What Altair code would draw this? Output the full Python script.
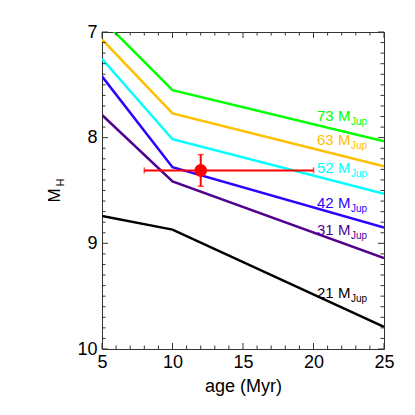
import altair as alt
import pandas as pd

# Model tracks: age (Myr) vs M_H for several masses
ages = [5, 10, 25]
masses = ["73", "63", "52", "42", "31", "21"]
mh_73 = [6.88, 7.55, 8.035]
mh_63 = [7.07, 7.77, 8.27]
mh_52 = [7.255, 8.015, 8.53]
mh_42 = [7.42, 8.28, 8.85]
mh_31 = [7.785, 8.415, 9.14]
mh_21 = [8.74, 8.87, 9.79]
colors = ["#00ff00", "#ffbf00", "#00ffff", "#3000ff", "#50008f", "#000000"]

label_age = [20.25, 20.25, 20.25, 20.25, 20.25, 20.25]
label_mh = [7.84, 8.07, 8.335, 8.665, 8.92, 9.515]

# Object measurement
obj_age = [12.0]
obj_mh = [8.31]
obj_age_lo = [8.0]
obj_age_hi = [20.0]
obj_mh_lo = [8.16]
obj_mh_hi = [8.46]

x_ticks = [5, 10, 15, 20, 25]
y_ticks = [7, 8, 9, 10]
x_minor = [a for a in range(5, 26) if a not in x_ticks]
y_minor = [round(7 + 0.1 * i, 1) for i in range(31) if (i % 10) != 0]

W, H = 282, 317
FONT = "Liberation Sans"

all_mh = [mh_73, mh_63, mh_52, mh_42, mh_31, mh_21]
rows = []
for m, vals in zip(masses, all_mh):
    for a, v in zip(ages, vals):
        rows.append({"mass": m, "age": a, "mh": v})
tracks = pd.DataFrame(rows)
labels = pd.DataFrame({"mass": masses, "age": label_age, "mh": label_mh,
                       "txt": [m + " M" for m in masses]})
obj = pd.DataFrame({"age": obj_age, "mh": obj_mh, "alo": obj_age_lo, "ahi": obj_age_hi,
                    "mlo": obj_mh_lo, "mhi": obj_mh_hi})

xs = alt.Scale(domain=[5, 25], nice=False, zero=False)
ys = alt.Scale(domain=[7, 10], reverse=True, nice=False, zero=False)
cs = alt.Scale(domain=masses, range=colors)

base_x = alt.X("age:Q", scale=xs,
               axis=alt.Axis(values=x_ticks, format="d", title="age (Myr)", ticks=False, domain=False,
                             grid=False, labelFontSize=18, labelPadding=4, titleFontSize=18,
                             titleFontWeight="normal", titlePadding=6, labelColor="black",
                             titleColor="black", labelFont=FONT, titleFont=FONT, labelFlush=False))
base_y = alt.Y("mh:Q", scale=ys,
               axis=alt.Axis(values=y_ticks, format="d", title=None, ticks=False, domain=False, grid=False,
                             labelFontSize=18, labelPadding=5, labelColor="black", labelFont=FONT,
                             labelFlush=False))

lines = alt.Chart(tracks).mark_line(strokeWidth=2.5, clip=True).encode(
    x=base_x, y=base_y,
    color=alt.Color("mass:N", scale=cs, legend=None),
    detail="mass:N",
)

lab_main = alt.Chart(labels).mark_text(align="left", baseline="alphabetic", fontSize=15, font=FONT).encode(
    x=alt.X("age:Q", scale=xs), y=alt.Y("mh:Q", scale=ys), text="txt:N",
    color=alt.Color("mass:N", scale=cs, legend=None))
lab_sub = alt.Chart(labels).mark_text(align="left", baseline="alphabetic", fontSize=10, font=FONT,
                                      dx=34, dy=4).encode(
    x=alt.X("age:Q", scale=xs), y=alt.Y("mh:Q", scale=ys), text=alt.value("Jup"),
    color=alt.Color("mass:N", scale=cs, legend=None))

herr = alt.Chart(obj).mark_rule(color="red", strokeWidth=2).encode(
    x=alt.X("alo:Q", scale=xs), x2="ahi:Q", y=alt.Y("mh:Q", scale=ys))
verr = alt.Chart(obj).mark_rule(color="red", strokeWidth=2).encode(
    x=alt.X("age:Q", scale=xs), y=alt.Y("mlo:Q", scale=ys), y2="mhi:Q")
capx_lo = alt.Chart(obj).mark_tick(color="red", orient="vertical", size=6, thickness=1.5).encode(
    x=alt.X("alo:Q", scale=xs), y=alt.Y("mh:Q", scale=ys))
capx_hi = alt.Chart(obj).mark_tick(color="red", orient="vertical", size=6, thickness=1.5).encode(
    x=alt.X("ahi:Q", scale=xs), y=alt.Y("mh:Q", scale=ys))
capy_lo = alt.Chart(obj).mark_tick(color="red", orient="horizontal", size=6, thickness=1.5).encode(
    x=alt.X("age:Q", scale=xs), y=alt.Y("mlo:Q", scale=ys))
capy_hi = alt.Chart(obj).mark_tick(color="red", orient="horizontal", size=6, thickness=1.5).encode(
    x=alt.X("age:Q", scale=xs), y=alt.Y("mhi:Q", scale=ys))
pt = alt.Chart(obj).mark_point(filled=True, color="red", opacity=1, size=160, shape="circle").encode(
    x=alt.X("age:Q", scale=xs), y=alt.Y("mh:Q", scale=ys))

# inward ticks on all four sides
tick_color = "#333333"

def xticks(vals, L):
    df = pd.DataFrame({"v": vals})
    bot = alt.Chart(df).mark_rule(color=tick_color, strokeWidth=1).encode(
        x=alt.X("v:Q", scale=xs), y=alt.value(H), y2=alt.value(H - L))
    top = alt.Chart(df).mark_rule(color=tick_color, strokeWidth=1).encode(
        x=alt.X("v:Q", scale=xs), y=alt.value(0), y2=alt.value(L))
    return bot + top

def yticks(vals, L):
    df = pd.DataFrame({"v": vals})
    left = alt.Chart(df).mark_rule(color=tick_color, strokeWidth=1).encode(
        y=alt.Y("v:Q", scale=ys), x=alt.value(0), x2=alt.value(L))
    right = alt.Chart(df).mark_rule(color=tick_color, strokeWidth=1).encode(
        y=alt.Y("v:Q", scale=ys), x=alt.value(W), x2=alt.value(W - L))
    return left + right

# y axis title M_H (rotated, with subscript)
ttl = pd.DataFrame({"t": ["M"], "s": ["H"]})
ytitle = alt.Chart(ttl).mark_text(angle=270, fontSize=17, font=FONT, baseline="alphabetic",
                                  align="center", color="black").encode(
    x=alt.value(-42), y=alt.value(H / 2 + 5), text="t:N")
ysub = alt.Chart(ttl).mark_text(angle=270, fontSize=11, font=FONT, baseline="alphabetic",
                                align="center", color="black").encode(
    x=alt.value(-38), y=alt.value(H / 2 - 8), text="s:N")

chart = alt.layer(
    lines, xticks(x_ticks, 6), xticks(x_minor, 3.5), yticks(y_ticks, 6), yticks(y_minor, 3.5),
    lab_main, lab_sub, herr, verr, capx_lo, capx_hi, capy_lo, capy_hi, pt, ytitle, ysub,
).properties(
    width=W, height=H,
    autosize=alt.AutoSizeParams(type="none"),
    padding={"left": 94, "top": 24, "right": 20, "bottom": 58},
    background="white",
).configure_view(
    stroke="#333333", strokeWidth=1
)

chart.save("out.html", embed_options={"renderer": "svg", "actions": False})
